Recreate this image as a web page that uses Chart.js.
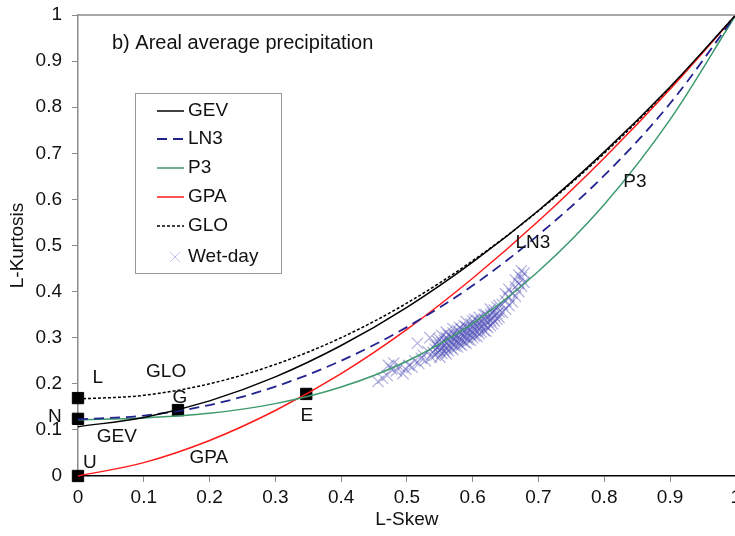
<!DOCTYPE html>
<html lang="en">
<head>
    <meta charset="UTF-8" />
    <title>L-moment ratio diagram</title>
    <script src="https://cdn.jsdelivr.net/npm/chart.js"></script>
    <style>
        html, body { margin: 0; padding: 0; background: #fff; overflow: hidden; }
        #wrap { width: 745px; height: 536px; }
    </style>
</head>
<body>
    <div id="wrap"><canvas id="grafico"></canvas></div>

    <script>
    // theoretical curves at L-skew = 0, 0.1, ... 1
    const skew = [0, 0.1, 0.2, 0.3, 0.4, 0.5, 0.6, 0.7, 0.8, 0.9, 1];
    const gev = [0.107, 0.127, 0.163, 0.215, 0.283, 0.366, 0.464, 0.576, 0.703, 0.844, 1.0];
    const ln3 = [0.123, 0.131, 0.154, 0.194, 0.250, 0.323, 0.413, 0.523, 0.652, 0.808, 1.0];
    const p3  = [0.122, 0.126, 0.136, 0.157, 0.193, 0.249, 0.331, 0.444, 0.589, 0.773, 1.0];
    const gpa = [0.000, 0.029, 0.077, 0.142, 0.222, 0.318, 0.429, 0.553, 0.690, 0.839, 1.0];
    const glo = [0.167, 0.175, 0.200, 0.242, 0.300, 0.375, 0.467, 0.575, 0.700, 0.842, 1.0];

    // special distributions (L, N, G, E, U)
    const pointSkew = [0, 0, 0.152, 0.347, 0];
    const pointKurt = [0.169, 0.124, 0.143, 0.178, 0];

    // wet-day sample L-moments [skew, kurtosis]
    const wetDay = [
        [0.456,0.205],[0.463,0.212],[0.470,0.218],[0.472,0.240],[0.477,0.232],[0.480,0.245],
        [0.484,0.228],[0.488,0.238],[0.494,0.222],[0.498,0.232],[0.503,0.240],[0.508,0.236],
        [0.512,0.250],[0.516,0.288],[0.518,0.244],[0.522,0.255],[0.525,0.262],[0.528,0.250],
        [0.532,0.270],[0.535,0.300],[0.537,0.258],[0.540,0.268],
        [0.543,0.262],[0.543,0.275],[0.543,0.285],
        [0.547,0.268],[0.547,0.280],[0.547,0.292],
        [0.550,0.258],[0.550,0.272],[0.550,0.284],[0.550,0.296],
        [0.553,0.266],[0.553,0.278],[0.553,0.290],[0.553,0.305],
        [0.557,0.270],[0.557,0.282],[0.557,0.294],
        [0.560,0.265],[0.560,0.276],[0.560,0.288],[0.560,0.300],[0.560,0.312],
        [0.563,0.272],[0.563,0.284],[0.563,0.296],[0.563,0.306],
        [0.567,0.278],[0.567,0.290],[0.567,0.302],
        [0.570,0.274],[0.570,0.286],[0.570,0.298],[0.570,0.310],[0.570,0.320],
        [0.573,0.282],[0.573,0.294],[0.573,0.305],
        [0.577,0.280],[0.577,0.292],[0.577,0.304],[0.577,0.316],
        [0.580,0.286],[0.580,0.298],[0.580,0.310],[0.580,0.322],
        [0.583,0.284],[0.583,0.296],[0.583,0.308],[0.583,0.318],
        [0.587,0.290],[0.587,0.302],[0.587,0.314],[0.587,0.326],
        [0.590,0.288],[0.590,0.300],[0.590,0.312],[0.590,0.324],[0.590,0.335],
        [0.593,0.296],[0.593,0.308],[0.593,0.320],
        [0.597,0.294],[0.597,0.306],[0.597,0.318],[0.597,0.330],
        [0.600,0.300],[0.600,0.312],[0.600,0.324],[0.600,0.336],
        [0.603,0.304],[0.603,0.316],[0.603,0.328],[0.603,0.340],
        [0.607,0.302],[0.607,0.314],[0.607,0.326],[0.607,0.338],
        [0.610,0.308],[0.610,0.320],[0.610,0.332],[0.610,0.344],
        [0.613,0.312],[0.613,0.324],[0.613,0.336],
        [0.617,0.316],[0.617,0.328],[0.617,0.340],[0.617,0.350],
        [0.620,0.314],[0.620,0.326],[0.620,0.338],[0.620,0.350],
        [0.623,0.322],[0.623,0.334],[0.623,0.346],
        [0.627,0.326],[0.627,0.338],[0.627,0.350],[0.627,0.362],
        [0.630,0.330],[0.630,0.342],[0.630,0.354],
        [0.633,0.336],[0.633,0.348],[0.633,0.360],
        [0.637,0.340],[0.637,0.352],[0.637,0.366],
        [0.640,0.344],[0.640,0.356],[0.640,0.370],
        [0.645,0.355],[0.645,0.372],
        [0.650,0.362],[0.650,0.380],[0.650,0.395],
        [0.655,0.370],[0.655,0.388],[0.655,0.405],
        [0.660,0.378],[0.660,0.396],
        [0.665,0.390],[0.665,0.410],[0.665,0.425],
        [0.670,0.400],[0.670,0.418],[0.670,0.436],
        [0.674,0.412],[0.674,0.430],[0.674,0.445],
        [0.678,0.420],[0.678,0.440]
    ];

    // text labels inside the plot (data coordinates)
    const labelTexts = ['L', 'GLO', 'G', 'N', 'GEV', 'E', 'U', 'GPA', 'LN3', 'P3'];
    const labelSkew = [0.030, 0.134, 0.155, -0.035, 0.059, 0.348, 0.018, 0.199, 0.6915, 0.8465];
    const labelKurt = [0.2126, 0.2256, 0.169, 0.128, 0.085, 0.130, 0.028, 0.039, 0.505, 0.638];

    const FONT = '"Liberation Sans", Arial, sans-serif';
    const CROSS = 'rgba(80, 80, 185, 0.45)';

    function curve(ys) {
        return skew.map((x, i) => ({ x: x, y: ys[i] }));
    }

    const series = [
        { label: 'GEV', data: gev, color: '#000000', dash: [], width: 1.5 },
        { label: 'LN3', data: ln3, color: '#23238f', dash: [10, 6], width: 1.8 },
        { label: 'P3', data: p3, color: '#3c9a6c', dash: [], width: 1.5 },
        { label: 'GPA', data: gpa, color: '#ff1a1a', dash: [], width: 1.5 },
        { label: 'GLO', data: glo, color: '#000000', dash: [3, 2], width: 1.5 }
    ];

    const datasets = series.map(s => ({
        label: s.label,
        data: curve(s.data),
        showLine: true,
        borderColor: s.color,
        borderWidth: s.width,
        borderDash: s.dash,
        pointRadius: 0,
        cubicInterpolationMode: 'monotone',
        clip: false
    }));

    datasets.push({
        label: 'Wet-day',
        data: wetDay.map(p => ({ x: p[0], y: p[1] })),
        showLine: false,
        pointStyle: 'crossRot',
        pointRadius: 8,
        pointBorderWidth: 1.2,
        pointBorderColor: CROSS,
        borderColor: CROSS,
        clip: false
    });

    datasets.push({
        label: 'points',
        data: pointSkew.map((x, i) => ({ x: x, y: pointKurt[i] })),
        showLine: false,
        pointStyle: 'rect',
        pointRadius: 8,
        pointBackgroundColor: '#000',
        pointBorderColor: '#000',
        clip: false
    });

    // legend box, title, labels, top frame line
    const extras = {
        id: 'extras',
        afterDraw(chart) {
            const ctx = chart.ctx;
            const a = chart.chartArea;
            const xs = chart.scales.x, ys = chart.scales.y;
            ctx.save();

            // top frame
            ctx.strokeStyle = '#8c8c8c';
            ctx.lineWidth = 1.5;
            ctx.beginPath();
            ctx.moveTo(a.left, a.top);
            ctx.lineTo(a.right, a.top);
            ctx.stroke();

            ctx.fillStyle = '#111';
            ctx.font = '20px ' + FONT;
            ctx.textAlign = 'left';
            ctx.textBaseline = 'middle';
            ctx.fillText('b) Areal average precipitation', 112, 43);

            ctx.font = '19px ' + FONT;
            ctx.textAlign = 'center';
            labelTexts.forEach((t, i) => {
                ctx.fillText(t, xs.getPixelForValue(labelSkew[i]), ys.getPixelForValue(labelKurt[i]));
            });

            // legend
            const bx = 135.5, by = 93.5, bw = 146, bh = 180;
            ctx.fillStyle = '#fff';
            ctx.fillRect(bx, by, bw, bh);
            ctx.strokeStyle = '#9a9a9a';
            ctx.lineWidth = 1;
            ctx.setLineDash([]);
            ctx.strokeRect(bx, by, bw, bh);

            ctx.font = '19px ' + FONT;
            ctx.textAlign = 'left';
            ctx.fillStyle = '#111';
            const rowY = [111, 139, 168, 197, 226, 257];
            series.forEach((s, i) => {
                ctx.strokeStyle = s.color;
                ctx.lineWidth = s.width;
                ctx.setLineDash(s.dash);
                ctx.beginPath();
                ctx.moveTo(157, rowY[i]);
                ctx.lineTo(184, rowY[i]);
                ctx.stroke();
                ctx.fillText(s.label, 188, rowY[i]);
            });
            ctx.setLineDash([]);
            ctx.strokeStyle = 'rgba(80, 80, 185, 0.35)';
            ctx.lineWidth = 1;
            const cx = 175, cy = rowY[5], r = 5;
            ctx.beginPath();
            ctx.moveTo(cx - r, cy - r); ctx.lineTo(cx + r, cy + r);
            ctx.moveTo(cx - r, cy + r); ctx.lineTo(cx + r, cy - r);
            ctx.stroke();
            ctx.fillText('Wet-day', 188, rowY[5]);

            ctx.restore();
        }
    };

    const ctx = document.getElementById('grafico').getContext('2d');
    const grafico = new Chart(ctx, {
        type: 'scatter',
        data: { datasets: datasets },
        options: {
            responsive: true,
            maintainAspectRatio: false,
            animation: false,
            layout: { padding: { top: 15, right: 9, left: 0, bottom: 0 } },
            plugins: {
                legend: { display: false },
                tooltip: { enabled: false }
            },
            scales: {
                x: {
                    type: 'linear',
                    min: 0,
                    max: 1,
                    afterFit(scale) {
                        scale.height = 60;
                        scale.paddingLeft = 0;
                        scale.paddingRight = 0;
                    },
                    border: { color: '#000', width: 1.5 },
                    grid: { drawOnChartArea: false, drawTicks: true, tickLength: 6, color: '#8c8c8c' },
                    ticks: {
                        stepSize: 0.1,
                        autoSkip: false,
                        maxRotation: 0,
                        padding: 4,
                        color: '#111',
                        font: { family: FONT, size: 19 },
                        callback: v => String(+v.toFixed(1))
                    },
                    title: {
                        display: true,
                        text: 'L-Skew',
                        color: '#111',
                        font: { family: FONT, size: 19 },
                        padding: { top: 0, bottom: 5 }
                    }
                },
                y: {
                    type: 'linear',
                    min: 0,
                    max: 1,
                    afterFit(scale) {
                        scale.width = 78;
                        scale.paddingTop = 0;
                        scale.paddingBottom = 0;
                    },
                    border: { color: '#8c8c8c', width: 1.5 },
                    grid: { drawOnChartArea: false, drawTicks: true, tickLength: 6, color: '#8c8c8c' },
                    ticks: {
                        stepSize: 0.1,
                        autoSkip: false,
                        padding: 10,
                        color: '#111',
                        font: { family: FONT, size: 19 },
                        callback: v => String(+v.toFixed(1))
                    },
                    title: {
                        display: true,
                        text: 'L-Kurtosis',
                        color: '#111',
                        font: { family: FONT, size: 19 },
                        padding: { top: 6, bottom: 0 }
                    }
                }
            }
        },
        plugins: [extras]
    });
    </script>
</body>
</html>
